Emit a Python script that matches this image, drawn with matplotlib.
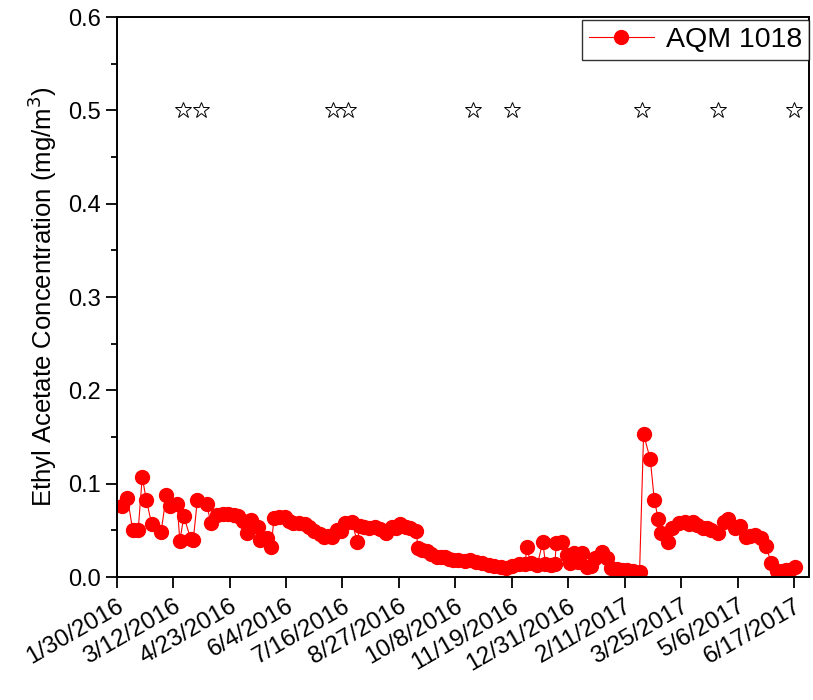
import matplotlib
matplotlib.use("Agg")
import matplotlib.pyplot as plt
import pandas as pd

plt.rcParams["font.family"] = ["Liberation Sans", "DejaVu Sans"]

# daily ethyl acetate readings at station AQM 1018
dates = [
    "2016-02-03", "2016-02-07", "2016-02-11", "2016-02-15", "2016-02-18", "2016-02-21",
    "2016-02-25", "2016-03-03", "2016-03-07", "2016-03-10", "2016-03-15", "2016-03-17",
    "2016-03-20", "2016-03-25", "2016-03-27", "2016-03-30", "2016-04-06", "2016-04-09",
    "2016-04-14", "2016-04-18", "2016-04-22", "2016-04-26", "2016-04-29", "2016-05-03",
    "2016-05-06", "2016-05-09", "2016-05-14", "2016-05-16", "2016-05-21", "2016-05-24",
    "2016-05-26", "2016-05-30", "2016-06-03", "2016-06-06", "2016-06-09", "2016-06-14",
    "2016-06-18", "2016-06-21", "2016-06-25", "2016-06-29", "2016-07-02", "2016-07-05",
    "2016-07-08", "2016-07-12", "2016-07-15", "2016-07-18", "2016-07-23", "2016-07-27",
    "2016-07-29", "2016-08-01", "2016-08-05", "2016-08-09", "2016-08-13", "2016-08-17",
    "2016-08-22", "2016-08-25", "2016-08-28", "2016-09-01", "2016-09-04", "2016-09-09",
    "2016-09-10", "2016-09-13", "2016-09-17", "2016-09-20", "2016-09-24", "2016-09-27",
    "2016-09-30", "2016-10-03", "2016-10-06", "2016-10-10", "2016-10-15", "2016-10-19",
    "2016-10-23", "2016-10-28", "2016-11-02", "2016-11-06", "2016-11-11", "2016-11-15",
    "2016-11-19", "2016-11-24", "2016-11-29", "2016-11-30", "2016-12-03", "2016-12-08",
    "2016-12-12", "2016-12-14", "2016-12-18", "2016-12-21", "2016-12-22", "2016-12-26",
    "2016-12-30", "2017-01-01", "2017-01-04", "2017-01-07", "2017-01-10", "2017-01-14",
    "2017-01-17", "2017-01-20", "2017-01-25", "2017-01-29", "2017-02-01", "2017-02-05",
    "2017-02-09", "2017-02-13", "2017-02-17", "2017-02-22", "2017-02-25", "2017-03-02",
    "2017-03-05", "2017-03-08", "2017-03-10", "2017-03-15", "2017-03-18", "2017-03-23",
    "2017-03-28", "2017-03-31", "2017-04-03", "2017-04-06", "2017-04-10", "2017-04-13",
    "2017-04-16", "2017-04-21", "2017-04-26", "2017-04-29", "2017-05-04", "2017-05-08",
    "2017-05-12", "2017-05-15", "2017-05-19", "2017-05-23", "2017-05-27", "2017-05-31",
    "2017-06-04", "2017-06-08", "2017-06-11", "2017-06-14", "2017-06-18",
]
conc = [
    0.076, 0.085, 0.050, 0.050, 0.107, 0.083,
    0.057, 0.048, 0.088, 0.076, 0.078, 0.039,
    0.065, 0.041, 0.040, 0.082, 0.078, 0.058,
    0.066, 0.067, 0.068, 0.066, 0.065, 0.060,
    0.047, 0.061, 0.054, 0.040, 0.042, 0.032,
    0.063, 0.064, 0.064, 0.060, 0.058, 0.058,
    0.057, 0.054, 0.049, 0.046, 0.043, 0.044,
    0.043, 0.050, 0.049, 0.058, 0.059, 0.038,
    0.055, 0.054, 0.053, 0.054, 0.051, 0.047,
    0.054, 0.052, 0.057, 0.054, 0.052, 0.049,
    0.031, 0.029, 0.028, 0.025, 0.021, 0.021,
    0.021, 0.019, 0.018, 0.018, 0.017, 0.018,
    0.016, 0.015, 0.013, 0.012, 0.011, 0.010,
    0.012, 0.014, 0.014, 0.032, 0.015, 0.013,
    0.038, 0.014, 0.013, 0.014, 0.036, 0.038,
    0.024, 0.015, 0.026, 0.016, 0.026, 0.011,
    0.012, 0.020, 0.027, 0.020, 0.010, 0.009,
    0.008, 0.0075, 0.006, 0.0057, 0.153, 0.126,
    0.082, 0.062, 0.047, 0.037, 0.052, 0.058,
    0.059, 0.057, 0.059, 0.056, 0.053, 0.052,
    0.050, 0.047, 0.059, 0.062, 0.053, 0.055,
    0.043, 0.044, 0.045, 0.042, 0.033, 0.015,
    0.006, 0.006, 0.0075, 0.008, 0.011,
]

# event markers drawn along the 0.5 line
event_dates = ["2016-03-19", "2016-04-02", "2016-07-09", "2016-07-20", "2016-10-21",
               "2016-11-19", "2017-02-24", "2017-04-21", "2017-06-17"]
event_level = 0.5

tick_dates = ["2016-01-30", "2016-03-12", "2016-04-23", "2016-06-04", "2016-07-16",
              "2016-08-27", "2016-10-08", "2016-11-19", "2016-12-31", "2017-02-11",
              "2017-03-25", "2017-05-06", "2017-06-17"]

x = pd.to_datetime(dates)
ex = pd.to_datetime(event_dates)
ticks = pd.to_datetime(tick_dates)

fig = plt.figure(figsize=(8.13, 7.0), dpi=100)
ax = fig.add_axes([0.1435, 0.1757, 0.8515, 0.8000])

ax.plot(x, conc, color="red", lw=0.8, marker="o", ms=10, mec="red", mfc="red",
        label="AQM 1018")
ax.plot(ex, [event_level] * len(ex), ls="none", marker="*", ms=12, mfc="white",
        mec="black", mew=0.7)

ax.set_xlim(pd.Timestamp("2016-01-30"), pd.Timestamp("2017-06-28"))
ax.set_ylim(0, 0.6)
ax.set_xticks(ticks)
ax.set_xticklabels([f"{d.month}/{d.day}/{d.year}" for d in ticks], rotation=30,
                   ha="right", rotation_mode="anchor", fontsize=17.5)
ax.set_yticks([0.0, 0.1, 0.2, 0.3, 0.4, 0.5, 0.6])
ax.set_yticklabels([f"{v:.1f}" for v in ax.get_yticks()], fontsize=17)
ax.set_yticks([0.05, 0.15, 0.25, 0.35, 0.45, 0.55], minor=True)

ax.tick_params(axis="both", which="major", direction="out", length=8, width=1.3)
ax.tick_params(axis="x", which="major", pad=5)
ax.tick_params(axis="y", which="minor", direction="out", length=4.5, width=1.3)
for s in ax.spines.values():
    s.set_linewidth(1.4)

ax.set_ylabel("Ethyl Acetate Concentration (mg/m$^3$)", fontsize=18.5, labelpad=6)

leg = ax.legend(loc="upper right", bbox_to_anchor=(1.0, 0.995), fontsize=20.5,
                frameon=True, fancybox=False, handlelength=2.3, borderaxespad=0.0,
                borderpad=0.25, handletextpad=0.4)
leg.get_frame().set_edgecolor("black")
leg.get_frame().set_linewidth(1.0)

fig.savefig("out.png", dpi=100)
